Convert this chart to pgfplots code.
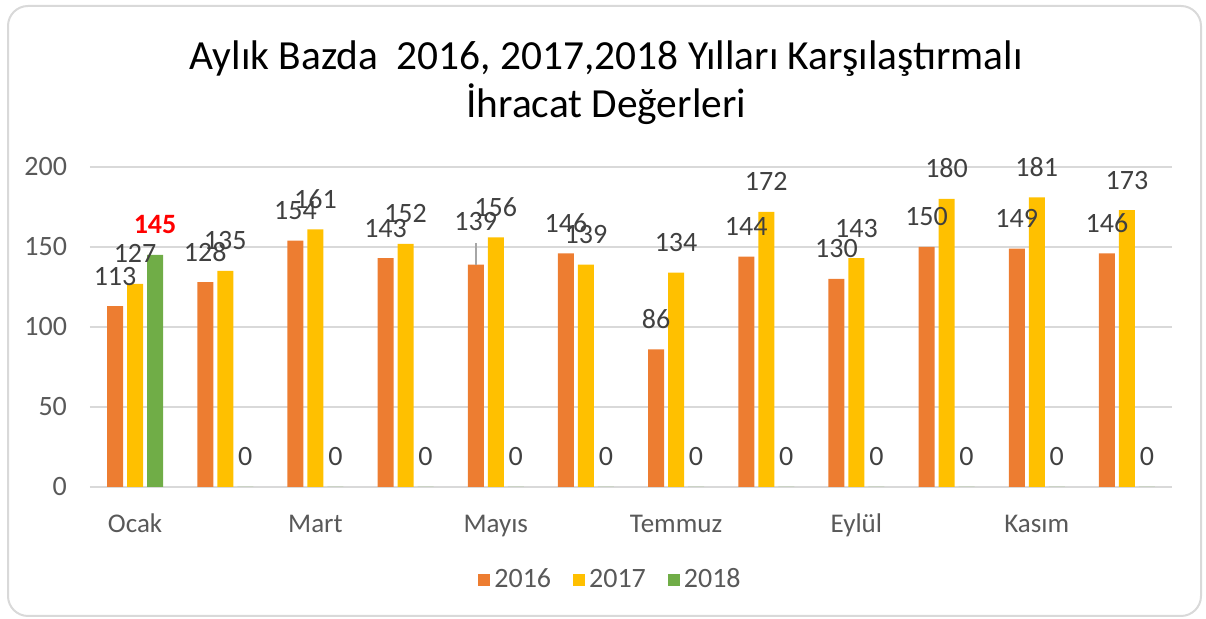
\documentclass[border=0pt]{standalone}
\usepackage{pgfplots}
\pgfplotsset{compat=1.18}
\usepackage{fontspec}
\setmainfont{Carlito}
\definecolor{c16}{HTML}{ED7D31}
\definecolor{c17}{HTML}{FFC000}
\definecolor{c18}{HTML}{70AD47}
\definecolor{gridc}{HTML}{D9D9D9}
\definecolor{tickc}{HTML}{595959}
\definecolor{labc}{HTML}{404040}
\begin{document}
\begin{tikzpicture}
\path[use as bounding box] (0,0) rectangle (603pt,309.5pt);
\draw[gridc, line width=1pt, rounded corners=10pt] (4pt,1.5pt) rectangle (600.5pt,306.5pt);
\begin{axis}[
  at={(45pt,66pt)}, anchor=south west,
  scale only axis, width=541pt, height=160pt,
  ybar=2pt, bar width=8pt,
  xmin=-0.5, xmax=11.5, ymin=0, ymax=200,
  xtick={0,2,4,6,8,10},
  xticklabels={Ocak,Mart,Mayıs,Temmuz,Eylül,Kasım},
  ytick={0,50,100,150,200},
  ymajorgrids, grid style={gridc, line width=1pt},
  axis line style={draw=none},
  major tick length=0pt,
  /pgf/number format/assume math mode=true,
  tick label style={font=\fontsize{14}{16}\selectfont, color=tickc},
  yticklabel style={xshift=-8pt},
  xticklabel style={font=\fontsize{13.5}{16}\selectfont, text height=9.5pt, text depth=3pt, yshift=-9.5pt},
  clip=false,
  nodes near coords,
  nodes near coords style={font=\fontsize{14}{16}\selectfont, color=labc, anchor=base, yshift=10.5pt},
  title={Aylık Bazda\ \ 2016, 2017,2018 Yılları Karşılaştırmalı\\İhracat Değerleri},
  title style={at={(0.477,1)}, anchor=center, yshift=36pt, align=center, font=\fontsize{20.7}{24}\selectfont, color=black},
  legend columns=3,
  legend style={draw=none, at={(0.482,-0.29)}, anchor=center, font=\fontsize{14}{16}\selectfont, text=tickc,
    /tikz/every even column/.append style={column sep=9pt}},
  legend image code/.code={\fill[#1] (-1.5pt,-3pt) rectangle (4.5pt,3pt);},
]
\addplot[fill=c16, draw=none, point meta=explicit symbolic] coordinates {
 (0,113) [113] (1,128) [128] (2,154) [154] (3,143) [143] (4,139) [\raisebox{6.5pt}{139}] (5,146) [146]
 (6,86) [86] (7,144) [144] (8,130) [130] (9,150) [150] (10,149) [149] (11,146) [146]};
\addplot[fill=c17, draw=none] coordinates {
 (0,127) (1,135) (2,161) (3,152) (4,156) (5,139) (6,134) (7,172) (8,143) (9,180) (10,181) (11,173)};
\addplot[fill=c18, draw=none, point meta=explicit symbolic] coordinates {
 (0,145) [{\bfseries\color{red}145}] (1,0) [0] (2,0) [0] (3,0) [0] (4,0) [0] (5,0) [0]
 (6,0) [0] (7,0) [0] (8,0) [0] (9,0) [0] (10,0) [0] (11,0) [0]};
\legend{2016,2017,2018}
\draw[gray!70, line width=0.8pt] ([xshift=-10pt]axis cs:4,139) -- ([xshift=-10pt,yshift=11pt]axis cs:4,139);
\end{axis}
\end{tikzpicture}
\end{document}
